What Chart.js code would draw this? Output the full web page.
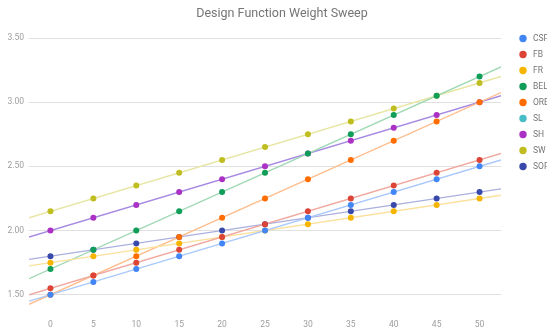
<!DOCTYPE html>
<html>
<head>
<meta charset="utf-8">
<script src="https://cdn.jsdelivr.net/npm/chart.js@4/dist/chart.umd.min.js"></script>
<style>
  html, body { margin: 0; padding: 0; background: #fff; }
  #wrap { width: 547px; height: 327px; }
</style>
</head>
<body>
<div id="wrap"><canvas id="sweepChart" width="547" height="327"></canvas></div>
<script>
// ==================== SWEEP DATA ====================

const weights = [0, 5, 10, 15, 20, 25, 30, 35, 40, 45, 50];
const seriesNames = ['CSP', 'FB', 'FR', 'BEL', 'ORB', 'SL', 'SH', 'SW', 'SOP'];

const csp = [1.50, 1.60, 1.70, 1.80, 1.90, 2.00, 2.10, 2.20, 2.30, 2.40, 2.50];
const fb  = [1.55, 1.65, 1.75, 1.85, 1.95, 2.05, 2.15, 2.25, 2.35, 2.45, 2.55];
const fr  = [1.75, 1.80, 1.85, 1.90, 1.95, 2.00, 2.05, 2.10, 2.15, 2.20, 2.25];
const bel = [1.70, 1.85, 2.00, 2.15, 2.30, 2.45, 2.60, 2.75, 2.90, 3.05, 3.20];
const orb = [1.50, 1.65, 1.80, 1.95, 2.10, 2.25, 2.40, 2.55, 2.70, 2.85, 3.00];
const sl  = [];
const sh  = [2.00, 2.10, 2.20, 2.30, 2.40, 2.50, 2.60, 2.70, 2.80, 2.90, 3.00];
const sw  = [2.15, 2.25, 2.35, 2.45, 2.55, 2.65, 2.75, 2.85, 2.95, 3.05, 3.15];
const sop = [1.80, 1.85, 1.90, 1.95, 2.00, 2.05, 2.10, 2.15, 2.20, 2.25, 2.30];

const seriesValues = [csp, fb, fr, bel, orb, sl, sh, sw, sop];

const yTicks = [1.5, 2.0, 2.5, 3.0, 3.5];
const xTicks = [0, 5, 10, 15, 20, 25, 30, 35, 40, 45, 50];

const pointColors = ['#4285f4', '#db4437', '#f4b400', '#0f9d58', '#ff6d00', '#46bdc6', '#ab30c4', '#bfbd1f', '#3949ab'];
const trendColors = ['#a9c8fb', '#f0aaa2', '#fbe19c', '#9fd8b4', '#ffbd8c', '#a8dee2', '#a78be2', '#e8e6a4', '#aab0de'];

const X_MIN = -2.5, X_MAX = 52.5;

// least-squares fit, sampled at the ends of the x range
function trendline(xs, ys) {
    if (!ys.length) return [];
    const n = ys.length;
    let sx = 0, sy = 0, sxx = 0, sxy = 0;
    for (let i = 0; i < n; i++) {
        sx += xs[i]; sy += ys[i]; sxx += xs[i] * xs[i]; sxy += xs[i] * ys[i];
    }
    const m = (n * sxy - sx * sy) / (n * sxx - sx * sx);
    const b = (sy - m * sx) / n;
    return [{ x: X_MIN, y: m * X_MIN + b }, { x: X_MAX, y: m * X_MAX + b }];
}

const datasets = [];
seriesNames.forEach((name, i) => {
    datasets.push({
        type: 'line',
        label: name + ' trend',
        data: trendline(weights, seriesValues[i]),
        borderColor: trendColors[i],
        borderWidth: 1.4,
        pointRadius: 0,
        fill: false,
        order: 2
    });
});
seriesNames.forEach((name, i) => {
    datasets.push({
        type: 'scatter',
        label: name,
        data: seriesValues[i].map((v, j) => ({ x: weights[j], y: v })),
        backgroundColor: pointColors[i],
        borderWidth: 0,
        pointRadius: 3,
        order: 1
    });
});

// title + right-hand legend, drawn straight onto the canvas
const decorPlugin = {
    id: 'decor',
    afterDraw(chart) {
        const ctx = chart.ctx;
        ctx.save();
        ctx.fillStyle = '#757575';
        ctx.font = '12.5px Roboto';
        ctx.textAlign = 'center';
        ctx.textBaseline = 'middle';
        ctx.fillText('Design Function Weight Sweep', 282, 14);

        ctx.font = '8.5px Roboto';
        ctx.textAlign = 'left';
        seriesNames.forEach((name, i) => {
            const y = 38.5 + i * 16;
            ctx.beginPath();
            ctx.arc(523, y, 3.7, 0, Math.PI * 2);
            ctx.fillStyle = pointColors[i];
            ctx.fill();
            ctx.fillStyle = '#757575';
            ctx.fillText(name, 533, y + 0.5);
        });
        ctx.restore();
    }
};

const ctx = document.getElementById('sweepChart').getContext('2d');
new Chart(ctx, {
    type: 'scatter',
    data: { datasets },
    options: {
        responsive: false,
        animation: false,
        layout: { padding: { left: 0, right: 46, top: 38, bottom: 0 } },
        plugins: {
            legend: { display: false },
            title: { display: false },
            tooltip: { enabled: false }
        },
        scales: {
            x: {
                type: 'linear',
                min: X_MIN,
                max: X_MAX,
                afterBuildTicks: (scale) => { scale.ticks = xTicks.map(v => ({ value: v })); },
                afterFit: (scale) => { scale.height = 22; },
                grid: { display: false },
                border: { display: false },
                ticks: { color: '#9e9e9e', font: { family: 'Roboto', size: 8.5 }, padding: 7, maxRotation: 0 }
            },
            y: {
                min: 1.42,
                max: 3.5,
                afterBuildTicks: (scale) => { scale.ticks = yTicks.map(v => ({ value: v })); },
                afterFit: (scale) => { scale.width = 29; },
                grid: { color: '#e0e0e0', lineWidth: 1, drawTicks: false },
                border: { display: false },
                ticks: {
                    color: '#9e9e9e',
                    font: { family: 'Roboto', size: 8.5 },
                    padding: 5,
                    callback: (v) => Number(v).toFixed(2)
                }
            }
        }
    },
    plugins: [decorPlugin]
});
</script>
</body>
</html>
